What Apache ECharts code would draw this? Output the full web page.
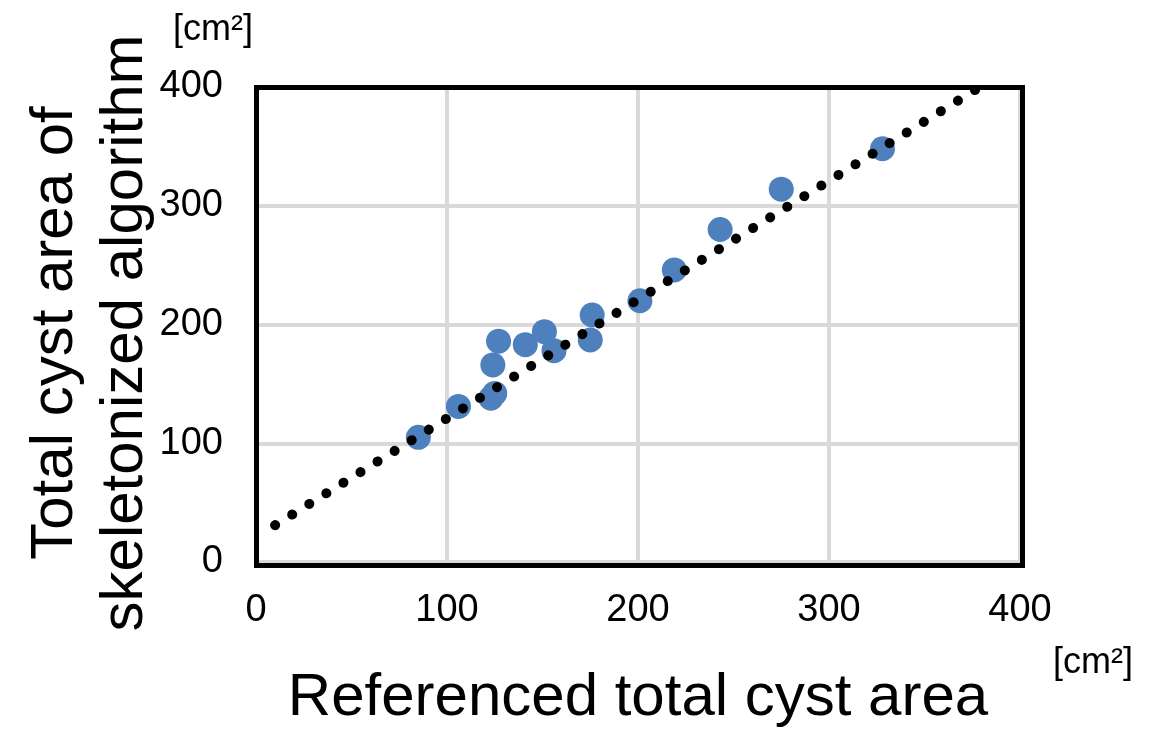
<!DOCTYPE html>
<html>
<head>
<meta charset="UTF-8">
<title>Cyst area</title>
<script src="https://cdn.jsdelivr.net/npm/echarts@6/dist/echarts.min.js"></script>
<style>
html,body{margin:0;padding:0;background:#fff;}
#main{width:1153px;height:731px;}
</style>
</head>
<body>
<div id="main"></div>
<script type="text/javascript">
// referenced area vs skeletonized algorithm area [cm2]
var refArea  = [85, 106, 123, 125, 124, 127, 141, 151, 156, 175, 176, 201, 219, 243, 275, 328];
var skelArea = [105, 131, 138, 142, 166, 186, 183, 194, 178, 187, 208, 220, 246, 280, 314, 348];
// linear trend line end points
var trendX = [10, 381];
var trendY = [31, 402];
var axisTicks = [0, 100, 200, 300, 400];

var font = 'Liberation Sans, Arial, sans-serif';
var pts = refArea.map(function (x, i) { return [x, skelArea[i]]; });
var trend = trendX.map(function (x, i) { return [x, trendY[i]]; });

var myChart = echarts.init(document.getElementById('main'));
myChart.setOption({
	animation: false,
	grid: {
		left: 256, right: 133, top: 87, bottom: 169,
		containLabel: false, outerBoundsMode: 'none'
	},
	xAxis: {
		type: 'value', min: axisTicks[0], max: axisTicks[axisTicks.length - 1], interval: 100,
		name: 'Referenced total cyst area',
		nameLocation: 'middle', nameGap: 106,
		nameTextStyle: { fontFamily: font, fontSize: 60, color: '#000' },
		axisLine: { show: false }, axisTick: { show: false },
		axisLabel: { margin: 30, fontFamily: font, fontSize: 38, color: '#000' },
		splitLine: { lineStyle: { color: '#d9d9d9', width: 4 } }
	},
	yAxis: {
		type: 'value', min: axisTicks[0], max: axisTicks[axisTicks.length - 1], interval: 100,
		axisLine: { show: false }, axisTick: { show: false },
		axisLabel: { margin: 33, fontFamily: font, fontSize: 38, color: '#000' },
		splitLine: { lineStyle: { color: '#d9d9d9', width: 4 } }
	},
	series: [{
		type: 'scatter',
		data: pts,
		symbolSize: 25,
		itemStyle: { color: '#4e80bd', opacity: 1 },
		z: 2
	}, {
		type: 'line',
		data: trend,
		symbol: 'none',
		clip: true,
		lineStyle: { color: '#000', width: 10, type: [0.1, 20], cap: 'round' },
		z: 3
	}],
	graphic: [{
		type: 'rect', left: 254, top: 85, z: 100,
		shape: { width: 766, height: 478 },
		style: { fill: 'none', stroke: '#000', lineWidth: 5 }
	}, {
		// y axis title, two lines rotated
		type: 'text', x: 90, y: 333, rotation: Math.PI / 2,
		style: {
			text: 'Total cyst area of\nskeletonized algorithm',
			font: '60px ' + font, fill: '#000', lineHeight: 70,
			align: 'center', verticalAlign: 'middle'
		}
	}, {
		type: 'text', left: 173, top: 12,
		style: { text: '[cm²]', font: '36px ' + font, fill: '#000' }
	}, {
		type: 'text', left: 1053, top: 645,
		style: { text: '[cm²]', font: '36px ' + font, fill: '#000' }
	}]
});
</script>
</body>
</html>
